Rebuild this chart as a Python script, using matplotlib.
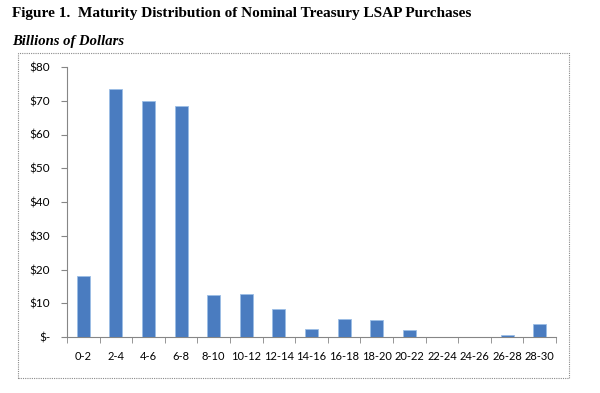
import matplotlib
matplotlib.use("Agg")
import matplotlib.pyplot as plt
from matplotlib.patches import Rectangle

categories = ["0-2", "2-4", "4-6", "6-8", "8-10", "10-12", "12-14", "14-16",
              "16-18", "18-20", "20-22", "22-24", "24-26", "26-28", "28-30"]
values = [18.1, 73.4, 70.0, 68.4, 12.4, 12.7, 8.3, 2.5, 5.4, 5.1, 2.0, 0.0, 0.0, 0.5, 3.9]
yticks = [0, 10, 20, 30, 40, 50, 60, 70, 80]
yticklabels = ["$-", "$10", "$20", "$30", "$40", "$50", "$60", "$70", "$80"]

fig = plt.figure(figsize=(6, 3.93), dpi=100)
W, H = 600, 393

def fx(px):
    return px / W

def fy(py):
    return 1 - py / H

ax = fig.add_axes([fx(67), fy(337), fx(556) - fx(67), fy(67) - fy(337)])
x = list(range(len(categories)))
ax.bar(x, values, width=0.4, color="#4a7cc0", edgecolor="#9bbde6", linewidth=0.6,
       zorder=3)
ax.set_xlim(-0.5, len(categories) - 0.5)
ax.set_ylim(0, 80)
ax.set_yticks(yticks)
ax.set_yticklabels(yticklabels, fontname="Lato", fontsize=8.5)
ax.set_xticks(x)
ax.set_xticklabels(categories, fontname="Lato", fontsize=8)
ax.tick_params(axis="x", length=0, pad=10)
ax.tick_params(axis="y", length=4, color="#868686", pad=8)
ax.set_xticks([i + 0.5 for i in range(-1, len(categories))], minor=True)
ax.tick_params(axis="x", which="minor", length=4, color="#868686")
for s in ["top", "right"]:
    ax.spines[s].set_visible(False)
for s in ["left", "bottom"]:
    ax.spines[s].set_color("#868686")
    ax.spines[s].set_linewidth(0.8)

fig.patches.append(Rectangle((fx(18), fy(378)), fx(569) - fx(18), fy(53) - fy(378),
                             transform=fig.transFigure, fill=False,
                             edgecolor="#8a8a8a", linewidth=0.8, linestyle=(0, (1, 1))))

fig.text(fx(12), fy(14), "Figure 1.  Maturity Distribution of Nominal Treasury LSAP Purchases",
         fontname="Liberation Serif", fontweight="bold", fontsize=11, va="center", ha="left")
fig.text(fx(12), fy(42), "Billions of Dollars", fontname="Liberation Serif",
         fontweight="bold", fontstyle="italic", fontsize=10.5, va="center", ha="left")

fig.savefig("out.png", dpi=100)
